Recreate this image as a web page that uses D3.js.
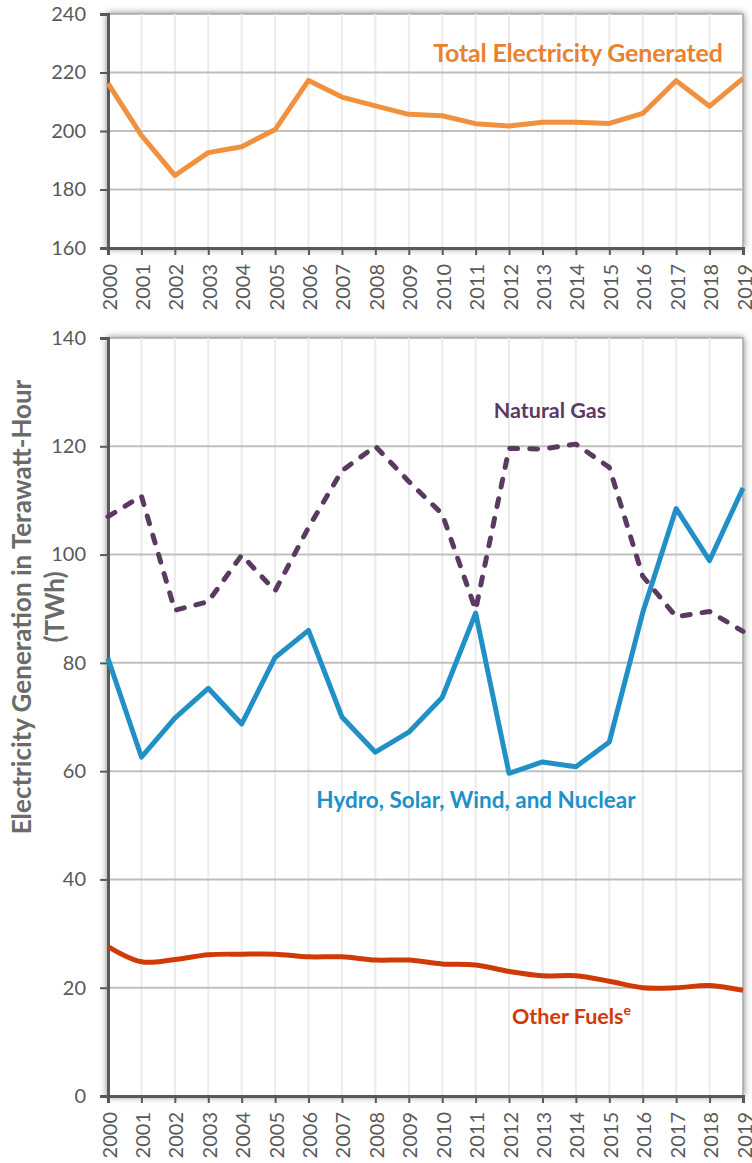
<!DOCTYPE html>
<html>
<head>
<meta charset="utf-8">
<script src="https://cdn.jsdelivr.net/npm/d3@7/dist/d3.min.js"></script>
<style>
  body { margin: 0; background: #fff; }
  svg { display: block; font-family: Lato, "Open Sans", sans-serif; }
</style>
</head>
<body>
<script>
var years = [2000, 2001, 2002, 2003, 2004, 2005, 2006, 2007, 2008, 2009,
             2010, 2011, 2012, 2013, 2014, 2015, 2016, 2017, 2018, 2019];

var totalGenerated = [216.3, 198.5, 184.8, 192.6, 194.6, 200.5, 217.3, 211.6, 208.6, 205.7,
                      205.2, 202.5, 201.7, 203, 203, 202.6, 206, 217.2, 208.5, 218];

var naturalGas = [107, 110.8, 89.7, 91.3, 99.9, 93.3, 105, 115.5, 120, 113.5,
                  107.5, 89.8, 119.6, 119.5, 120.4, 116.1, 96, 88.5, 89.5, 85.8];

var hydroSolarWindNuclear = [80.8, 62.6, 69.8, 75.3, 68.7, 81, 86, 70, 63.5, 67.2,
                             73.6, 89.2, 59.6, 61.7, 60.8, 65.4, 89.3, 108.5, 98.9, 112.3];

var otherFuels = [27.6, 24.8, 25.2, 26.1, 26.2, 26.2, 25.7, 25.7, 25.1, 25.1,
                  24.4, 24.2, 23, 22.2, 22.2, 21.2, 20, 20, 20.4, 19.5];

var topTicks = [160, 180, 200, 220, 240];
var bottomTicks = [0, 20, 40, 60, 80, 100, 120, 140];

var W = 752, H = 1163;
var plotLeft = 108, plotRight = 743;

var svg = d3.select('body').append('svg')
  .attr('width', W)
  .attr('height', H);

var defs = svg.append('defs');
var shadow = defs.append('filter')
  .attr('id', 'shadow')
  .attr('x', '-5%').attr('y', '-5%')
  .attr('width', '110%').attr('height', '110%');
shadow.append('feDropShadow')
  .attr('dx', 0).attr('dy', 0)
  .attr('stdDeviation', 3.5)
  .attr('flood-color', '#000')
  .attr('flood-opacity', 0.5);

var x = d3.scaleLinear()
  .domain([2000, 2019])
  .range([plotLeft, plotRight]);

function drawPanel(top, bottom, domain, ticks) {
  var y = d3.scaleLinear().domain(domain).range([bottom, top]);
  var g = svg.append('g');

  g.append('rect')
    .attr('x', plotLeft)
    .attr('y', top)
    .attr('width', plotRight - plotLeft)
    .attr('height', bottom - top)
    .attr('fill', '#fff')
    .attr('stroke', '#a6a6a6')
    .attr('stroke-width', 1.5)
    .attr('filter', 'url(#shadow)');

  // vertical grid
  g.append('g')
    .selectAll('line')
    .data(years.slice(1, -1))
    .enter()
    .append('line')
    .attr('x1', function(d) { return x(d); })
    .attr('x2', function(d) { return x(d); })
    .attr('y1', top)
    .attr('y2', bottom)
    .attr('stroke', '#ebebeb')
    .attr('stroke-width', 2);

  // horizontal grid
  g.append('g')
    .selectAll('line')
    .data(ticks.slice(1, -1))
    .enter()
    .append('line')
    .attr('x1', plotLeft)
    .attr('x2', plotRight)
    .attr('y1', function(d) { return y(d); })
    .attr('y2', function(d) { return y(d); })
    .attr('stroke', '#bfbfbf')
    .attr('stroke-width', 2);

  var yAxis = g.append('g')
    .attr('transform', 'translate(' + plotLeft + ',0)')
    .call(d3.axisLeft(y).tickValues(ticks).tickSize(8).tickPadding(14));
  yAxis.select('.domain').attr('stroke', '#595959').attr('stroke-width', 3);
  yAxis.selectAll('.tick line').attr('stroke', '#595959').attr('stroke-width', 2);
  yAxis.selectAll('.tick text')
    .attr('fill', '#595959')
    .style('font-size', '20px')
    .style('font-family', 'Lato, sans-serif');

  var xAxis = g.append('g')
    .attr('transform', 'translate(0,' + bottom + ')')
    .call(d3.axisBottom(x).tickValues(years).tickFormat(d3.format('d')).tickSize(7).tickPadding(10));
  xAxis.select('.domain').attr('stroke', '#595959').attr('stroke-width', 3);
  xAxis.selectAll('.tick line').attr('stroke', '#595959').attr('stroke-width', 2);
  xAxis.selectAll('.tick text')
    .attr('fill', '#595959')
    .style('font-size', '20px')
    .style('font-family', 'Lato, sans-serif')
    .attr('text-anchor', 'end')
    .attr('dominant-baseline', 'central')
    .attr('dy', null)
    .attr('y', 0)
    .attr('x', 0)
    .attr('transform', 'translate(0,16) rotate(-90)');

  return y;
}

function drawLine(y, values, color, dashed, curve) {
  var line = d3.line()
    .x(function(d, i) { return x(years[i]); })
    .y(function(d) { return y(d); })
    .curve(curve || d3.curveLinear);
  var path = svg.append('path')
    .datum(values)
    .attr('d', line)
    .attr('fill', 'none')
    .attr('stroke', color)
    .attr('stroke-width', 5)
    .attr('stroke-linejoin', 'round');
  if (dashed) {
    path.attr('stroke-dasharray', '8,12').attr('stroke-linecap', 'round');
  }
}

// top panel
var yTop = drawPanel(14, 248, [160, 240], topTicks);
drawLine(yTop, totalGenerated, '#f0913f', false);

svg.append('text')
  .attr('x', 578)
  .attr('y', 62)
  .attr('text-anchor', 'middle')
  .attr('fill', '#e8822f')
  .style('font-size', '25px')
  .style('font-weight', 'bold')
  .style('letter-spacing', '-0.2px')
  .text('Total Electricity Generated');

// bottom panel
var yBot = drawPanel(338, 1096, [0, 140], bottomTicks);
drawLine(yBot, otherFuels, '#cf3a06', false, d3.curveCatmullRom);
drawLine(yBot, hydroSolarWindNuclear, '#2190c6', false);
drawLine(yBot, naturalGas, '#5b3a61', true);

svg.append('text')
  .attr('x', 550)
  .attr('y', 418)
  .attr('text-anchor', 'middle')
  .attr('fill', '#5b3a61')
  .style('font-size', '21.5px')
  .style('font-weight', 'bold')
  .text('Natural Gas');

svg.append('text')
  .attr('x', 476)
  .attr('y', 808)
  .attr('text-anchor', 'middle')
  .attr('fill', '#2190c6')
  .style('font-size', '22.5px')
  .style('font-weight', 'bold')
  .text('Hydro, Solar, Wind, and Nuclear');

var other = svg.append('text')
  .attr('x', 512)
  .attr('y', 1024)
  .attr('fill', '#cf3a06')
  .style('font-size', '21.5px')
  .style('font-weight', 'bold');
other.append('tspan').text('Other Fuels');
other.append('tspan')
  .attr('dy', -9)
  .style('font-size', '14px')
  .text('e');

var ytitle = svg.append('text')
  .attr('transform', 'translate(0,607) rotate(-90)')
  .attr('text-anchor', 'middle')
  .attr('fill', '#6b6b6b')
  .style('font-size', '26px')
  .style('font-weight', 'bold');
ytitle.append('tspan').attr('x', 0).attr('y', 31).text('Electricity Generation in Terawatt-Hour');
ytitle.append('tspan').attr('x', 0).attr('y', 64).text('(TWh)');
</script>
</body>
</html>
